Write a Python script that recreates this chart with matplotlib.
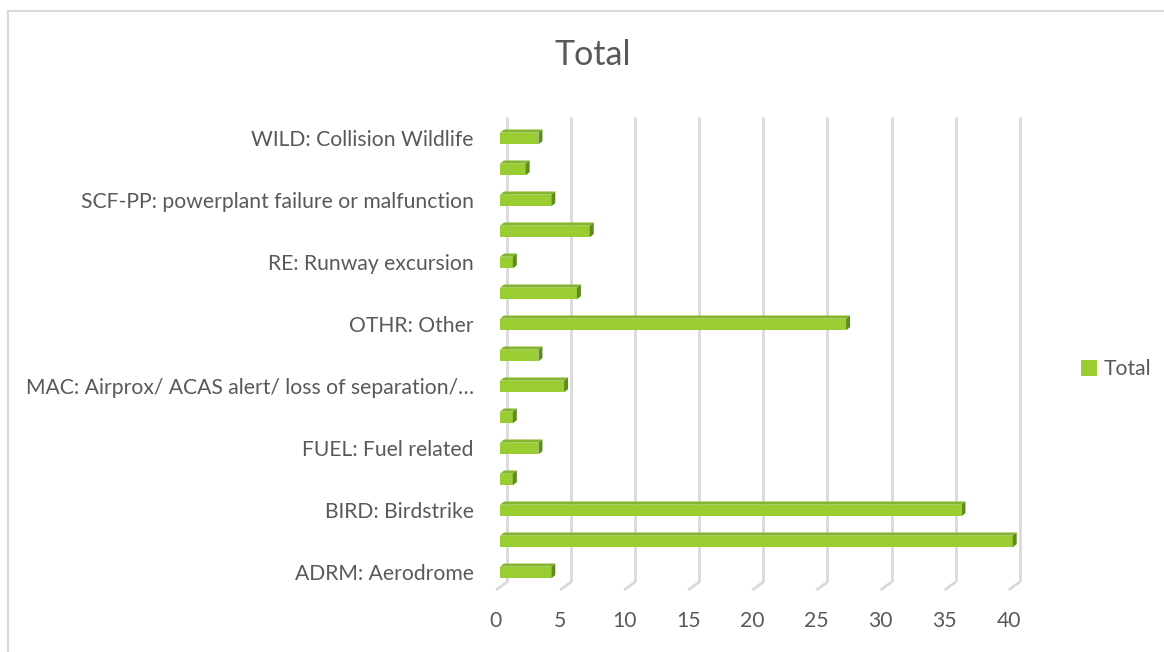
import matplotlib
matplotlib.use("Agg")
import matplotlib.pyplot as plt
from matplotlib.transforms import ScaledTranslation
from matplotlib.lines import Line2D
from matplotlib.patches import Patch, Polygon

# ---- data (bottom to top, as drawn) ----
categories = [
    "ADRM: Aerodrome",
    "ATM: ATM/CNS",
    "BIRD: Birdstrike",
    "CABIN: Cabin safety events",
    "FUEL: Fuel related",
    "LOC-I: Loss of control - inflight",
    "MAC: Airprox/ ACAS alert/ loss of separation/\u2026",
    "NAV: Navigation error",
    "OTHR: Other",
    "RAMP: Ground Handling",
    "RE: Runway excursion",
    "SCF-NP: System/component failure or malfunction",
    "SCF-PP: powerplant failure or malfunction",
    "TURB: Turbulence encounter",
    "WILD: Collision Wildlife",
]
totals = [4, 40, 36, 1, 3, 1, 5, 3, 27, 6, 1, 7, 4, 2, 3]
x_ticks = [0, 5, 10, 15, 20, 25, 30, 35, 40]
title = "Total"
series_name = "Total"

# ---- style ----
FONT = ["Lato", "DejaVu Sans"]
plt.rcParams["font.family"] = FONT
TXT = "#595959"
GRID = "#D9D9D9"
FRONT = "#9ACD32"
TOPC = "#84B52C"
SIDE = "#5F8A1E"
FS = 15.2

W, H, DPI = 1164, 652, 100
fig = plt.figure(figsize=(W / DPI, H / DPI), dpi=DPI)

# axes: bar plane x(0)=500px, x(40)=1012.7px; y from 588px (bottom) to 123px (top)
left, right = 500, 1012.7
bottom, top = 588, 123
ax = fig.add_axes([left / W, 1 - bottom / H, (right - left) / W, (bottom - top) / H])
ax.set_xlim(0, 40)
ax.set_ylim(-0.5, len(categories) - 0.5)
for s in ax.spines.values():
    s.set_visible(False)
ax.set_facecolor("none")

def px(dx, dy):
    return ScaledTranslation(dx / DPI, dy / DPI, fig.dpi_scale_trans)

ppx = (right - left) / 40.0             # px per data unit x
ppy = (bottom - top) / len(categories)  # px per data unit y

ypos = list(range(len(categories)))
bh = 0.375

bars = ax.barh(ypos, totals, height=bh, color=FRONT, zorder=4, clip_on=False)

# 3D depth faces derived from each bar's geometry
ddx, ddy = 4 / ppx, 3.2 / ppy
for b in bars:
    x0, y0, w, h = b.get_x(), b.get_y(), b.get_width(), b.get_height()
    x1, y1 = x0 + w, y0 + h
    topface = Polygon([(x0, y1), (x1, y1), (x1 + ddx, y1 + ddy), (x0 + ddx, y1 + ddy)],
                      closed=True, facecolor=TOPC, edgecolor="none", zorder=4, clip_on=False)
    side = Polygon([(x1, y0), (x1 + ddx, y0 + ddy), (x1 + ddx, y1 + ddy), (x1, y1)],
                   closed=True, facecolor=SIDE, edgecolor="none", zorder=4, clip_on=False)
    ax.add_patch(topface)
    ax.add_patch(side)

# gridlines on back wall + floor diagonals
for t in x_ticks:
    ax.plot([t, t], [-0.5, len(categories) - 0.5], color=GRID, lw=2.0,
            transform=ax.transData + px(7, 6), clip_on=False, zorder=1, solid_capstyle="butt")
    x_back = t + 7 / ppx
    y_back = -0.5 + 6 / ppy
    x_front = t - 4 / ppx
    y_front = -0.5 - 2 / ppy
    ax.plot([x_back, x_front], [y_back, y_front], color=GRID, lw=2.0,
            clip_on=False, zorder=1, solid_capstyle="butt")

# ticks
ax.set_xticks(x_ticks)
ax.set_xticklabels([str(t) for t in x_ticks], fontsize=FS, color=TXT)
ax.tick_params(axis="x", length=0, pad=16.5)
for lab in ax.get_xticklabels():
    lab.set_transform(lab.get_transform() + px(-4, 0))

shown = ypos[::2]
ax.set_yticks(shown)
ax.set_yticklabels([categories[i] for i in shown], fontsize=FS, color=TXT)
ax.tick_params(axis="y", length=0, pad=19)

# title
fig.text(593 / W, 1 - 55 / H, title, ha="center", va="center", fontsize=24.5, color=TXT)

# legend
fig.legend(handles=[Patch(facecolor=FRONT, edgecolor="none", label=series_name)],
           loc="center left", bbox_to_anchor=(1081 / W, 1 - 369 / H),
           frameon=False, fontsize=FS, labelcolor=TXT,
           handlelength=0.78, handleheight=0.78, handletextpad=0.3, borderpad=0, borderaxespad=0)

# chart-area border (top and left visible)
fig.add_artist(Line2D([8 / W, 1], [1 - 11 / H, 1 - 11 / H], color=GRID, lw=1.5, transform=fig.transFigure))
fig.add_artist(Line2D([8 / W, 8 / W], [0, 1 - 11 / H], color=GRID, lw=1.5, transform=fig.transFigure))

fig.savefig("out.png", dpi=DPI, facecolor="white")
